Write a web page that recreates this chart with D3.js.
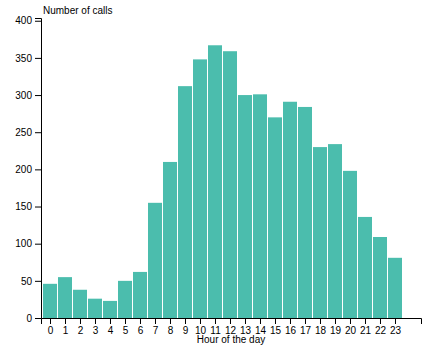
<!DOCTYPE html>
<html>
<head>
<meta charset="utf-8">
<script src="https://cdn.jsdelivr.net/npm/d3@7"></script>
<style>
  body { margin: 0; background: #fff; }
  svg { display: block; font-family: Arial, "Liberation Sans", sans-serif; }
</style>
</head>
<body>
<svg id="chart" width="444" height="350"></svg>
<script>
// Calls received per hour of the day
const hours = d3.range(24);
const calls = [46, 55, 38, 26, 23, 50, 62, 155, 210, 312, 348, 367,
               359, 300, 301, 270, 291, 284, 230, 234, 198, 136, 109, 81];
const yTicks = [0, 50, 100, 150, 200, 250, 300, 350, 400];
const xTitle = "Hour of the day";
const yTitle = "Number of calls";

const svg = d3.select("#chart");
const margin = { top: 18, right: 23, bottom: 32, left: 41 };
const width = 444, height = 350;

const x = d3.scaleBand()
  .domain(hours)
  .range([margin.left, width - margin.right])
  .paddingInner(0)
  .paddingOuter(0.6667)
  .align(0.1);

const y = d3.scaleLinear()
  .domain([0, d3.max(calls) * 1.1])
  .range([height - margin.bottom, margin.top]);

svg.append("g")
  .selectAll("rect")
  .data(hours)
  .join("rect")
  .attr("x", d => x(d))
  .attr("y", d => y(calls[d]))
  .attr("width", x.bandwidth() - 1)
  .attr("height", d => y(0) - y(calls[d]))
  .attr("fill", "#4bbdad");

svg.append("g")
  .attr("transform", `translate(0,${y(0)})`)
  .call(d3.axisBottom(x))
  .call(g => g.selectAll("text").attr("font-size", 10).attr("font-family", null))
  .attr("font-family", null);

svg.append("g")
  .attr("transform", `translate(${margin.left},0)`)
  .call(d3.axisLeft(y).tickValues(yTicks))
  .call(g => g.selectAll("text").attr("font-size", 10))
  .attr("font-family", null);

svg.append("text")
  .attr("x", (margin.left + width - margin.right) / 2)
  .attr("y", 343)
  .attr("text-anchor", "middle")
  .attr("font-size", 10)
  .text(xTitle);

svg.append("text")
  .attr("x", 43)
  .attr("y", 14)
  .attr("font-size", 10)
  .text(yTitle);
</script>
</body>
</html>
